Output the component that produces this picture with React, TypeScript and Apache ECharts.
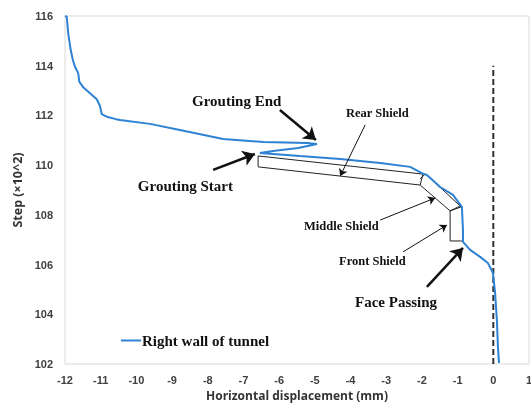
import React, { useEffect, useRef } from "react";
import * as echarts from "echarts";

// Curve: horizontal displacement (mm) vs step (x10^2)
const curveX = [
  -12, -11.95, -11.91, -11.84, -11.78, -11.72, -11.63, -11.6, -11.49, -11.3, -11.11, -11.02, -10.97,
  -10.83, -10.6, -10.46, -9.62, -8.78, -7.57, -6.45, -5.22, -4.94, -5.47, -6.17, -6.54, -5.42, -4.29,
  -3.17, -2.33, -2.0, -1.86, -1.49, -1.13, -0.88, -0.85, -0.85, -0.65, -0.37, -0.15, -0.01, 0.05, 0.1,
  0.13, 0.16,
];
const curveY = [
  116, 115.97, 115.3, 114.63, 114.23, 113.96, 113.7, 113.36, 113.13, 112.89, 112.65, 112.38, 112.05,
  111.95, 111.86, 111.82, 111.66, 111.41, 111.05, 110.93, 110.89, 110.85, 110.69, 110.57, 110.49,
  110.37, 110.25, 110.09, 109.93, 109.68, 109.6, 109.12, 108.8, 108.32, 107.39, 106.91, 106.59, 106.31,
  106.06, 105.66, 104.86, 103.77, 102.69, 102.04,
];

// Face reference line (x = 0)
const faceLineX = [0, 0];
const faceLineY = [102, 114];

// Shield outlines (data coordinates)
const rearShield: [number, number][] = [
  [-6.59, 110.37], [-6.59, 109.93], [-2.05, 109.2], [-1.97, 109.64], [-6.59, 110.37],
];
const middleShield: [number, number][] = [
  [-2.05, 109.2], [-1.21, 108.16], [-0.9, 108.32], [-1.86, 109.6],
];
const frontShield: [number, number][] = [
  [-1.21, 108.16], [-1.21, 106.95], [-0.88, 106.95],
];
const rearWedge: [number, number][] = [[-2.05, 109.45], [-1.9, 109.65]];
const midWedge: [number, number][] = [[-1.21, 108.16], [-0.9, 108.38]];

// Arrows: [tailX, tailY, headX, headY]
const thickArrows: [number, number, number, number][] = [
  [-5.98, 112.22, -4.97, 111.01], // Grouting End
  [-7.85, 109.81, -6.68, 110.45], // Grouting Start
  [-1.86, 105.1, -0.85, 106.67], // Face Passing
];
const thinArrows: [number, number, number, number][] = [
  [-3.59, 111.62, -4.29, 109.56], // Rear Shield
  [-3.17, 107.79, -1.63, 108.68], // Middle Shield
  [-2.53, 106.51, -1.3, 107.59], // Front Shield
];

const seriesName = "Right wall of tunnel";

const zip = (xs: number[], ys: number[]) => xs.map((x, i) => [x, ys[i]]);

export default function App() {
  const ref = useRef<HTMLDivElement>(null);
  useEffect(() => {
    document.body.style.margin = "0";
    document.documentElement.style.overflow = "hidden";
    document.body.style.overflow = "hidden";
    if (!ref.current) return;
    const chart = echarts.init(ref.current, null, { renderer: "svg" });
    const outline = (data: [number, number][]) => ({
      type: "line",
      data,
      symbol: "none",
      silent: true,
      z: 1,
      lineStyle: { color: "#222", width: 1 },
    });
    const arrowSeries = (arr: [number, number, number, number][], width: number, size: number) => ({
      type: "line",
      data: [],
      silent: true,
      markLine: {
        silent: true,
        symbol: ["none", "arrow"],
        symbolSize: size,
        label: { show: false },
        lineStyle: { color: "#111", width, type: "solid" },
        emphasis: { disabled: true },
        data: arr.map((a) => [{ coord: [a[0], a[1]] }, { coord: [a[2], a[3]] }]),
      },
    });
    const serif = "'Liberation Serif', 'Times New Roman', serif";
    chart.setOption({
      animation: false,
      grid: {
        left: 65,
        right: 2,
        top: 16,
        bottom: 39,
        show: true,
        borderColor: "#d9d9d9",
        borderWidth: 1,
        outerBoundsMode: "none",
        containLabel: false,
      },
      legend: {
        data: [seriesName],
        left: 116,
        top: 328,
        icon: "rect",
        itemWidth: 20,
        itemHeight: 2,
        itemGap: 0,
        textStyle: { fontFamily: serif, fontWeight: "bold", fontSize: 15, color: "#111", padding: [0, 0, 0, -4] },
      },
      xAxis: {
        type: "value",
        min: -12,
        max: 1,
        interval: 1,
        name: "Horizontal displacement (mm)",
        nameLocation: "middle",
        nameGap: 21,
        nameTextStyle: { fontFamily: "'Open Sans', sans-serif", fontWeight: "bold", fontSize: 12, color: "#333" },
        axisLine: { show: false },
        axisTick: { show: false },
        splitLine: { show: false },
        axisLabel: { fontFamily: "'Liberation Sans', sans-serif", fontWeight: "bold", fontSize: 11, color: "#404040", margin: 10 },
      },
      yAxis: {
        type: "value",
        min: 102,
        max: 116,
        interval: 2,
        name: "Step (×10^2)",
        nameLocation: "middle",
        nameGap: 38,
        nameTextStyle: { fontFamily: "'Open Sans', sans-serif", fontWeight: "bold", fontSize: 12.5, color: "#333" },
        axisLine: { show: false },
        axisTick: { show: false },
        splitLine: { show: false },
        axisLabel: { fontFamily: "'Liberation Sans', sans-serif", fontWeight: "bold", fontSize: 11, color: "#404040", margin: 12 },
      },
      series: [
        outline(rearShield),
        outline(middleShield),
        outline(frontShield),
        outline(rearWedge),
        outline(midWedge),
        {
          type: "line",
          data: zip(faceLineX, faceLineY),
          symbol: "none",
          silent: true,
          lineStyle: { color: "#333", width: 2, type: [6, 3] },
        },
        arrowSeries(thickArrows, 2.5, 12),
        arrowSeries(thinArrows, 1, 7),
        {
          name: seriesName,
          type: "line",
          data: zip(curveX, curveY),
          symbol: "none",
          z: 3,
          lineStyle: { color: "#2e82d4", width: 2 },
          itemStyle: { color: "#2e82d4" },
        },
      ],
      graphic: [
        { type: "text", x: 192, y: 101, style: { text: "Grouting End", font: `bold 15px ${serif}`, fill: "#111", textVerticalAlign: "middle" } },
        { type: "text", x: 233, y: 186, style: { text: "Grouting Start", font: `bold 15px ${serif}`, fill: "#111", textAlign: "right", textVerticalAlign: "middle" } },
        { type: "text", x: 346, y: 113, style: { text: "Rear Shield", font: `bold 12.5px ${serif}`, fill: "#111", textVerticalAlign: "middle" } },
        { type: "text", x: 304, y: 226, style: { text: "Middle Shield", font: `bold 12.5px ${serif}`, fill: "#111", textVerticalAlign: "middle" } },
        { type: "text", x: 339, y: 261, style: { text: "Front Shield", font: `bold 12.5px ${serif}`, fill: "#111", textVerticalAlign: "middle" } },
        { type: "text", x: 355, y: 302, style: { text: "Face Passing", font: `bold 15px ${serif}`, fill: "#111", textVerticalAlign: "middle" } },
      ],
    });
    return () => chart.dispose();
  }, []);
  return (
    <div
      ref={ref}
      style={{ width: 531, height: 403, position: "fixed", left: 0, top: 0, overflow: "hidden" }}
    />
  );
}
